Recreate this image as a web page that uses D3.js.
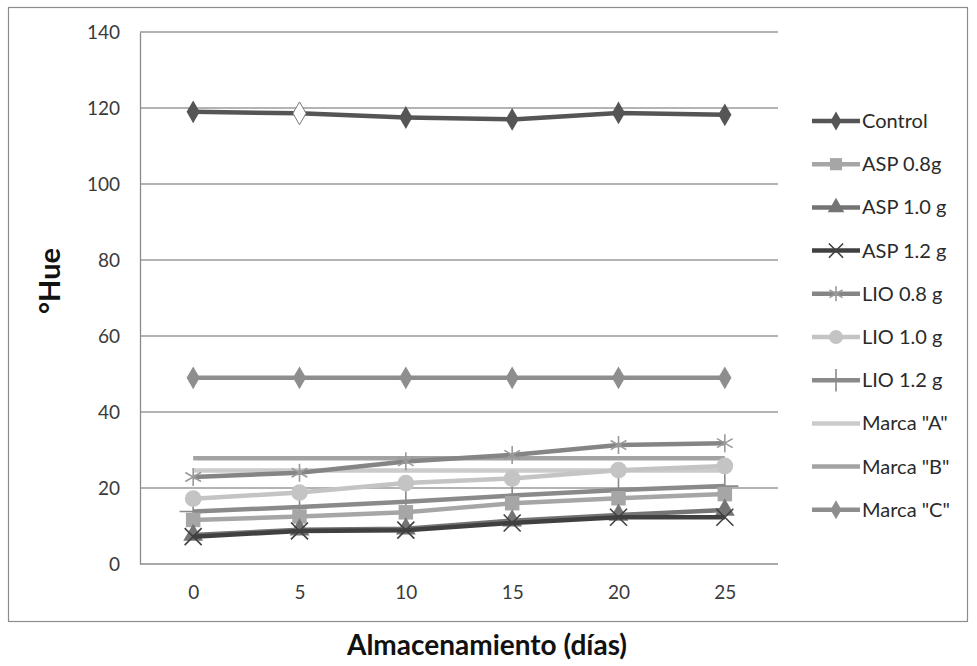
<!DOCTYPE html>
<html>
<head>
<meta charset="utf-8">
<script src="https://cdn.jsdelivr.net/npm/d3@7"></script>
<style>
  body { margin: 0; background: #fff; }
  text { font-family: Lato, "Open Sans", sans-serif; }
</style>
</head>
<body>
<svg id="chart" width="977" height="666"></svg>
<script>
"use strict";

// storage days and tick labels
const days = [0, 5, 10, 15, 20, 25];
const yTicks = [0, 20, 40, 60, 80, 100, 120, 140];

// °Hue per treatment
const control = [119.0, 118.6, 117.5, 117.0, 118.7, 118.2];
const asp08   = [11.6, 12.5, 13.6, 16.0, 17.3, 18.4];
const asp10   = [7.6, 9.0, 9.3, 11.4, 12.9, 14.2];
const asp12   = [7.2, 8.7, 8.9, 10.8, 12.3, 12.3];
const lio08   = [22.9, 24.0, 27.0, 28.7, 31.3, 31.8];
const lio10   = [17.2, 18.8, 21.3, 22.5, 24.7, 25.8];
const lio12   = [13.8, 15.0, 16.4, 18.0, 19.5, 20.5];
const marcaA  = [24.6, 24.6, 24.6, 24.6, 24.6, 24.6];
const marcaB  = [27.8, 27.8, 27.8, 27.8, 27.8, 27.8];
const marcaC  = [49.0, 49.0, 49.0, 49.0, 49.0, 49.0];

const seriesNames = ["Control", "ASP 0.8g", "ASP 1.0 g", "ASP 1.2 g", "LIO 0.8 g",
                     "LIO 1.0 g", "LIO 1.2 g", "Marca \"A\"", "Marca \"B\"", "Marca \"C\""];
const seriesValues = [control, asp08, asp10, asp12, lio08, lio10, lio12, marcaA, marcaB, marcaC];

// look of each series: colour, marker kind, marker size
const styles = [
  {color: "#555555", sym: d3.symbolDiamond, size: 150, fill: true},
  {color: "#a6a6a6", sym: d3.symbolSquare, size: 210, fill: true},
  {color: "#747474", sym: d3.symbolTriangle, size: 170, fill: true},
  {color: "#404040", sym: d3.symbolX, size: 190, fill: false},
  {color: "#858585", sym: d3.symbolAsterisk, size: 230, fill: false, mark: "#9a9a9a"},
  {color: "#c4c4c4", sym: d3.symbolCircle, size: 220, fill: true},
  {color: "#8a8a8a", sym: d3.symbolPlus, size: 240, fill: false},
  {color: "#cbcbcb", sym: null},
  {color: "#a3a3a3", sym: null},
  {color: "#8e8e8e", sym: d3.symbolDiamond, size: 150, fill: true}
];

const svg = d3.select("#chart");
const m = {left: 140, right: 778, top: 32, bottom: 564};

const x = d3.scalePoint().domain(days).range([m.left, m.right]).padding(0.5);
const y = d3.scaleLinear().domain([0, 140]).range([m.bottom, m.top]);

// outer chart frame
svg.append("rect")
  .attr("x", 8.5).attr("y", 7.5).attr("width", 959).attr("height", 614)
  .attr("fill", "none").attr("stroke", "#8c8c8c").attr("stroke-width", 1.2);

// gridlines
svg.append("g").selectAll("line").data(yTicks.filter(d => d > 0)).join("line")
  .attr("x1", m.left).attr("x2", m.right)
  .attr("y1", d => y(d)).attr("y2", d => y(d))
  .attr("stroke", "#9a9a9a").attr("stroke-width", 1.3);

// y axis
const yAxis = svg.append("g").attr("transform", `translate(${m.left},0)`)
  .call(d3.axisLeft(y).tickValues(yTicks).tickSize(0).tickPadding(20));
yAxis.select(".domain").attr("stroke", "#8c8c8c").attr("stroke-width", 1.3);
yAxis.selectAll("text").attr("font-size", 19).attr("fill", "#3a3a3a");

// x axis
const xAxis = svg.append("g").attr("transform", `translate(0,${m.bottom})`)
  .call(d3.axisBottom(x).tickSize(0).tickPadding(22));
xAxis.select(".domain").attr("d", `M${m.left},0H${m.right}`)
  .attr("stroke", "#8c8c8c").attr("stroke-width", 1.3);
xAxis.selectAll("text").attr("font-size", 19).attr("fill", "#3a3a3a");

// axis titles
svg.append("text")
  .attr("transform", "translate(60,281) rotate(-90)")
  .attr("text-anchor", "middle").attr("font-size", 29).attr("font-weight", 700)
  .attr("fill", "#111").text("°Hue");

svg.append("text")
  .attr("x", 487).attr("y", 655)
  .attr("text-anchor", "middle").attr("font-size", 28).attr("font-weight", 700)
  .attr("fill", "#111").text("Almacenamiento (días)");

// series lines and markers
const line = d3.line().x((d, i) => x(days[i])).y(d => y(d));
const drawOrder = [9, 8, 7, 6, 5, 4, 1, 2, 3, 0];

function marker(g, st, px, py, scale, hollow) {
  if (!st.sym) return;
  const p = g.append("path")
    .attr("d", d3.symbol(st.sym, st.size * scale)())
    .attr("transform", `translate(${px},${py})`);
  if (st.fill) {
    p.attr("fill", hollow ? "#fff" : (st.mark || st.color))
     .attr("stroke", hollow ? "#777" : "none").attr("stroke-width", 1);
  } else {
    p.attr("fill", "none").attr("stroke", st.mark || st.color).attr("stroke-width", 1.6);
  }
}

const plot = svg.append("g");
drawOrder.forEach(k => {
  const st = styles[k];
  const g = plot.append("g");
  g.append("path").attr("d", line(seriesValues[k]))
    .attr("fill", "none").attr("stroke", st.color).attr("stroke-width", 4.5)
    .attr("stroke-linejoin", "round");
  seriesValues[k].forEach((v, i) => {
    // one Control point is drawn with an empty diamond in the figure
    marker(g, st, x(days[i]), y(v), 1, k === 0 && i === 1);
  });
});

// legend
const legend = svg.append("g");
seriesNames.forEach((name, k) => {
  const st = styles[k];
  const ly = 121 + k * 43.2;
  const g = legend.append("g");
  g.append("line").attr("x1", 812).attr("x2", 860).attr("y1", ly).attr("y2", ly)
    .attr("stroke", st.color).attr("stroke-width", 4.5);
  marker(g, st, 836, ly, 0.7, false);
  g.append("text").attr("x", 862).attr("y", ly).attr("dy", "0.35em")
    .attr("font-size", 20).attr("fill", "#2a2a2a").text(name);
});
</script>
</body>
</html>
